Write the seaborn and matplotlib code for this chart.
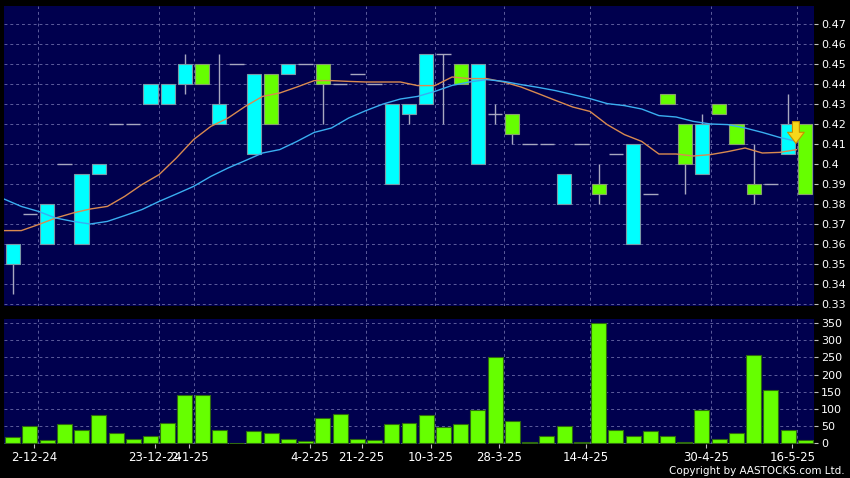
import matplotlib
matplotlib.use('Agg')
import matplotlib.pyplot as plt
import numpy as np
import pandas as pd
import seaborn as sns

# daily prices (47 sessions)
opens = [0.35, 0.375, 0.36, 0.40, 0.36, 0.395, 0.42, 0.42, 0.43, 0.43,
         0.44, 0.45, 0.42, 0.45, 0.405, 0.445, 0.445, 0.45, 0.45, 0.44,
         0.445, 0.44, 0.39, 0.425, 0.43, 0.455, 0.45, 0.40, 0.425, 0.425,
         0.41, 0.41, 0.38, 0.41, 0.39, 0.405, 0.36, 0.385, 0.435, 0.42,
         0.395, 0.43, 0.42, 0.39, 0.39, 0.405, 0.42]
closes = [0.36, 0.375, 0.38, 0.40, 0.395, 0.40, 0.42, 0.42, 0.44, 0.44,
          0.45, 0.44, 0.43, 0.45, 0.445, 0.42, 0.45, 0.45, 0.44, 0.44,
          0.445, 0.44, 0.43, 0.43, 0.455, 0.455, 0.44, 0.45, 0.425, 0.415,
          0.41, 0.41, 0.395, 0.41, 0.385, 0.405, 0.41, 0.385, 0.43, 0.40,
          0.42, 0.425, 0.41, 0.385, 0.39, 0.42, 0.385]
highs = [0.36, 0.375, 0.38, 0.40, 0.395, 0.40, 0.42, 0.42, 0.44, 0.44,
         0.455, 0.45, 0.455, 0.45, 0.445, 0.445, 0.45, 0.45, 0.45, 0.44,
         0.445, 0.44, 0.43, 0.43, 0.455, 0.455, 0.45, 0.45, 0.43, 0.425,
         0.41, 0.41, 0.395, 0.41, 0.40, 0.405, 0.41, 0.385, 0.435, 0.42,
         0.425, 0.43, 0.42, 0.41, 0.39, 0.435, 0.42]
lows = [0.335, 0.375, 0.36, 0.40, 0.36, 0.395, 0.42, 0.42, 0.43, 0.43,
        0.435, 0.44, 0.42, 0.45, 0.405, 0.42, 0.445, 0.45, 0.42, 0.44,
        0.445, 0.44, 0.39, 0.42, 0.43, 0.42, 0.44, 0.40, 0.42, 0.41,
        0.41, 0.41, 0.38, 0.41, 0.38, 0.405, 0.36, 0.385, 0.43, 0.385,
        0.395, 0.425, 0.41, 0.38, 0.39, 0.405, 0.385]

# moving averages as drawn (orange = short, blue = long)
ma_short = [0.3667, 0.3667, 0.3697, 0.373, 0.3755, 0.3775, 0.3788, 0.3838, 0.3897, 0.3947,
            0.403, 0.4122, 0.4188, 0.423, 0.4288, 0.4338, 0.4355, 0.4385, 0.4417, 0.4417,
            0.4413, 0.441, 0.441, 0.441, 0.4392, 0.4392, 0.4435, 0.4427, 0.4427, 0.441,
            0.4385, 0.4352, 0.4318, 0.4285, 0.4263, 0.4197, 0.4147, 0.4113, 0.405, 0.405,
            0.404, 0.4047, 0.4062, 0.408, 0.4055, 0.4058, 0.4072]
ma_long = [0.3825, 0.3788, 0.3763, 0.373, 0.3713, 0.370, 0.3713, 0.3742, 0.3772, 0.3813,
           0.385, 0.3888, 0.3938, 0.398, 0.4017, 0.4055, 0.4072, 0.4113, 0.4158, 0.418,
           0.423, 0.4267, 0.430, 0.4325, 0.4338, 0.4363, 0.4393, 0.441, 0.4422, 0.4413,
           0.4397, 0.4383, 0.4367, 0.4347, 0.4327, 0.4302, 0.4292, 0.4275, 0.4242, 0.4235,
           0.4213, 0.420, 0.4197, 0.418, 0.4158, 0.4133, 0.4113]

volume = [18, 49, 10, 56, 39, 82, 30, 12, 22, 60,
          142, 140, 38, 1, 36, 30, 14, 7, 74, 86,
          14, 10, 57, 59, 82, 48, 57, 97, 252, 66,
          5, 20, 49, 3, 350, 39, 22, 37, 20, 3,
          97, 12, 30, 256, 154, 39, 10]

# date labels and the session each one marks
date_labels = ['2-12-24', '23-12-24', '2-1-25', '4-2-25', '21-2-25',
               '10-3-25', '28-3-25', '14-4-25', '30-4-25', '16-5-25']
date_sessions = [2, 9, 11, 18, 21, 25, 29, 34, 41, 46]

NAVY = '#00004e'
CYAN = '#00ffff'
GREEN = '#66ff00'
GRID = '#5c5c9c'

sns.set_style('dark')
plt.rcParams['font.family'] = ['DejaVu Sans']

fig = plt.figure(figsize=(8.5, 4.78), dpi=100, facecolor='black')
ax = fig.add_axes([4 / 850, 1 - 306 / 478, 810 / 850, 300 / 478])
axv = fig.add_axes([4 / 850, 1 - 444 / 478, 810 / 850, 125 / 478])

df = pd.DataFrame({'day': np.arange(len(volume)), 'open': opens, 'close': closes,
                   'high': highs, 'low': lows, 'volume': volume})

for a in (ax, axv):
    a.set_facecolor(NAVY)
    for s in a.spines.values():
        s.set_visible(False)
    for p in date_sessions:
        a.axvline(p - 0.5, color=GRID, lw=0.7, ls=(0, (3, 3)), zorder=0)

# --- price panel
for t in np.arange(0.33, 0.475, 0.01):
    ax.axhline(t, color=GRID, lw=0.7, ls=(0, (3, 3)), zorder=0)

ax.vlines(df['day'], df['low'], df['high'], color='#a8a8c0', lw=1, zorder=2)
doji = df[df['open'] == df['close']]
ax.hlines(doji['close'], doji['day'] - 0.42, doji['day'] + 0.42, color='#a8a8c0', lw=1, zorder=2)
up = df[df['close'] > df['open']]
down = df[df['close'] < df['open']]
ax.bar(up['day'], up['close'] - up['open'], bottom=up['open'], width=0.82,
       color=CYAN, edgecolor='#7a9aa8', lw=0.8, zorder=3)
ax.bar(down['day'], down['open'] - down['close'], bottom=down['close'], width=0.82,
       color=GREEN, edgecolor='#88a070', lw=0.8, zorder=3)

ma_x = df['day'] - 0.5
sns.lineplot(x=ma_x, y=ma_short, ax=ax, color='#d98a50', lw=1, zorder=4)
sns.lineplot(x=ma_x, y=ma_long, ax=ax, color='#3aaef0', lw=1, zorder=4)

ax.annotate('', xy=(45.45, 0.4103), xytext=(45.45, 0.4212),
            arrowprops=dict(arrowstyle='simple,head_width=1.2,head_length=0.8,tail_width=0.5',
                            fc='#f7d81a', ec='#c89000', lw=0.8, shrinkA=0, shrinkB=0),
            zorder=6)

ax.set_xlim(-0.5, 46.5)
ax.set_ylim(0.329, 0.479)
ax.set_yticks(np.round(np.arange(0.33, 0.475, 0.01), 2))
ax.set_yticklabels([f'{v:g}' for v in np.round(np.arange(0.33, 0.475, 0.01), 2)])
ax.set_xticks([])
ax.set_xlabel('')
ax.set_ylabel('')
ax.yaxis.tick_right()
ax.tick_params(axis='y', right=True, left=False, length=3, width=0.8, color='#c0c0c0',
               labelcolor='white', labelsize=8, pad=2)

# --- volume panel
for t in range(0, 351, 50):
    axv.axhline(t, color=GRID, lw=0.7, ls=(0, (3, 3)), zorder=0)
sns.barplot(data=df, x='day', y='volume', ax=axv, color=GREEN, saturation=1,
            width=0.87, edgecolor='#2f6a10', linewidth=0.8, zorder=3)
axv.set_xlim(-0.5, 46.5)
axv.set_ylim(-2, 362)
axv.set_yticks(range(0, 351, 50))
axv.set_xticks([p - 0.75 for p in date_sessions])
axv.set_xticklabels(date_labels)
axv.set_xlabel('')
axv.set_ylabel('')
axv.yaxis.tick_right()
axv.tick_params(axis='y', right=True, left=False, length=3, width=0.8, color='#c0c0c0',
                labelcolor='white', labelsize=8, pad=2)
axv.tick_params(axis='x', bottom=True, length=3, width=0.8, color='#c0c0c0',
                labelcolor='white', labelsize=8.5, pad=2)

fig.text(0.994, 0.004, 'Copyright by AASTOCKS.com Ltd.', color='white', fontsize=7.5,
         ha='right', va='bottom')

fig.savefig('out.png', dpi=100, facecolor='black')
